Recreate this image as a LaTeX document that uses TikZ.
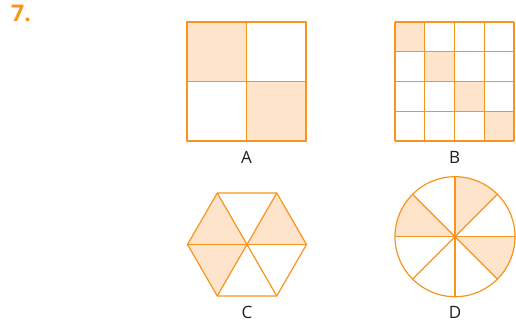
\documentclass[tikz,border=0pt]{standalone}
\usepackage{fontspec}
\setmainfont{Open Sans}
\usetikzlibrary{positioning}
\definecolor{qorange}{RGB}{247,148,30}
\definecolor{qpeach}{RGB}{253,228,202}
\definecolor{qink}{RGB}{35,31,32}

\begin{document}
\begin{tikzpicture}[
  x=1pt, y=1pt,
  edge/.style={draw=qorange, line width=1.2pt, line join=round},
  part/.style={fill=qpeach},
  tag/.style={font=\fontsize{17}{17}\selectfont, text=qink, inner sep=0pt},
  qnum/.style={font=\fontsize{23}{23}\selectfont\bfseries, text=qorange, inner sep=0pt},
]
\useasboundingbox (0,0) rectangle (516,324);

% ---- question number -------------------------------------------------------
\node[qnum, anchor=base west] (qno) at (11,302) {7.};

% ---- A: a square cut in four -----------------------------------------------
\fill[part] (187,242.5) rectangle (246.5,302);
\fill[part] (246.5,183) rectangle (306,242.5);
\draw[edge] (187,183) rectangle (306,302);
\draw[edge] (246.5,183) -- (246.5,302);
\draw[edge] (187,242.5) -- (306,242.5);
\node[tag] (labA) at (246.5,167) {A};

% ---- B: a square cut in sixteen, diagonal shaded ---------------------------
\foreach \i in {0,...,3}
  \fill[part] (395+\i*29.75,302-\i*29.75-29.75) rectangle ++(29.75,29.75);
\foreach \i in {0,...,4} {
  \draw[edge] (395+\i*29.75,183) -- (395+\i*29.75,302);
  \draw[edge] (395,183+\i*29.75) -- (514,183+\i*29.75);
}
\node[tag] (labB) at (454.5,167) {B};

% ---- C: a hexagon cut in six -----------------------------------------------
\begin{scope}[shift={(247,79.5)}]
  \fill[part] (0,0) -- (0:59.5) -- (60:59.5) -- cycle;
  \fill[part] (0,0) -- (120:59.5) -- (180:59.5) -- (240:59.5) -- cycle;
  \draw[edge] (0:59.5) \foreach \a in {60,120,...,300} { -- (\a:59.5) } -- cycle;
  \foreach \a in {0,60,120}
    \draw[edge] (\a:59.5) -- (\a+180:59.5);
\end{scope}
\node[tag] (labC) at (247,12) {C};

% ---- D: a circle cut in eight ----------------------------------------------
\begin{scope}[shift={(455,87.3)}]
  \foreach \a in {45,135,315}
    \fill[part] (0,0) -- (\a:60) arc[start angle=\a, end angle=\a+45, radius=60] -- cycle;
  \draw[edge] (0,0) circle[radius=60];
  \foreach \a in {0,45,90,135}
    \draw[edge] (\a:60) -- (\a+180:60);
\end{scope}
\node[tag] (labD) at (455,12) {D};

\end{tikzpicture}
\end{document}
